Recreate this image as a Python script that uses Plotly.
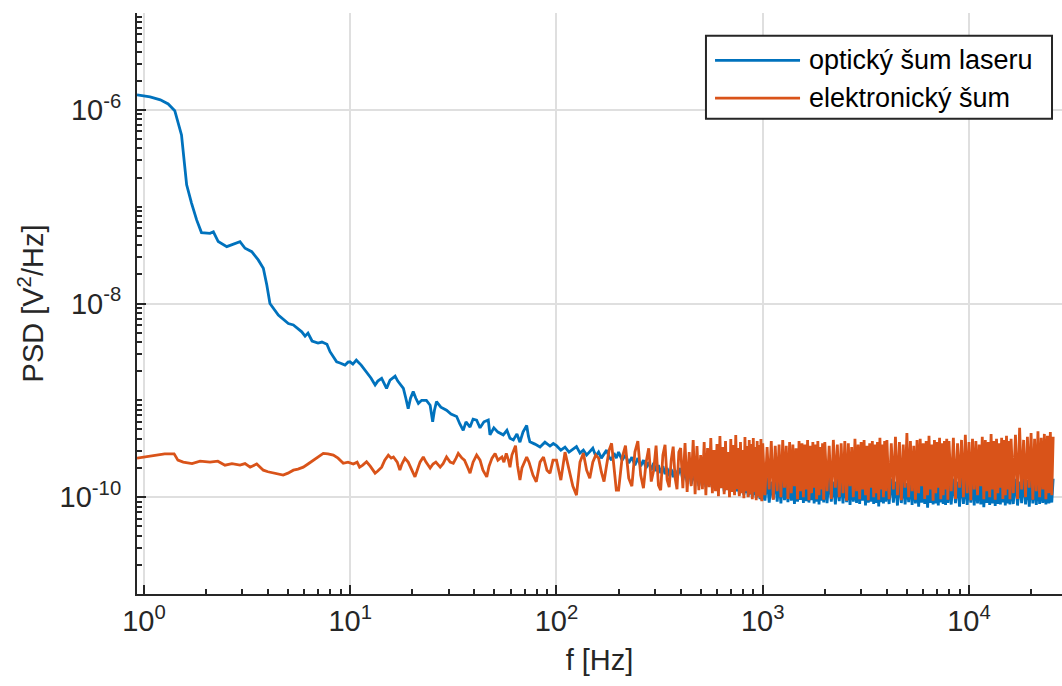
import plotly.graph_objects as go

# ---------------- data ----------------
# optical laser noise, low-frequency part (Hz, V^2/Hz)
freq_opt_lo = [0.925, 1.07, 1.2, 1.31, 1.41, 1.47, 1.52, 1.57, 1.61, 1.70, 1.80, 1.90, 2.09, 2.17, 2.29,
               2.52, 2.71, 2.92, 3.09, 3.33, 3.58, 3.79, 3.94, 4.08, 4.48, 5.01, 5.30, 5.82, 6.04, 6.24,
               6.53, 6.98, 7.29, 7.71, 7.98, 8.59, 8.92, 9.43, 9.75, 9.97, 10.3, 10.7, 11.3, 12.0, 12.6,
               13.2, 13.6, 14.2, 15.0, 15.6, 16.5, 17.0, 18.1, 18.6, 19.1, 19.6, 20.2, 20.8, 21.4, 22.2,
               23.4, 24.4, 25.1, 25.6, 26.2, 27.5, 29.3, 30.8, 32.8, 34.0, 35.3, 36.4, 38.1, 39.4, 41.0,
               42.6, 44.5, 46.7, 47.6, 49.7, 52.0, 55.2, 57.5, 59.5, 61.8, 64.3, 66.5, 68.8, 71.7, 73.1,
               74.3, 78.6, 83.2, 87.9, 93.0, 96.5]
psd_opt_lo = [1.43e-6, 1.36e-6, 1.27e-6, 1.15e-6, 9.8e-7, 7.3e-7, 5.5e-7, 2.81e-7, 1.68e-7, 1.09e-7,
              7.3e-8, 5.4e-8, 5.3e-8, 5.5e-8, 4.36e-8, 3.87e-8, 4.09e-8, 4.36e-8, 3.72e-8, 3.43e-8,
              2.82e-8, 2.31e-8, 1.55e-8, 1.0e-8, 7.6e-9, 6.2e-9, 6.0e-9, 5.1e-9, 4.6e-9, 4.95e-9,
              4.1e-9, 3.9e-9, 4.0e-9, 3.8e-9, 3.18e-9, 2.5e-9, 2.43e-9, 2.31e-9, 2.48e-9, 2.5e-9,
              2.37e-9, 2.6e-9, 2.31e-9, 1.97e-9, 1.70e-9, 1.44e-9, 1.58e-9, 1.69e-9, 1.33e-9, 1.62e-9,
              1.78e-9, 1.58e-9, 1.33e-9, 1.05e-9, 8.2e-10, 1.05e-9, 1.23e-9, 1.05e-9, 9.3e-10, 1.0e-9,
              1.0e-9, 8.9e-10, 6.0e-10, 7.9e-10, 9.7e-10, 8.5e-10, 7.9e-10, 7.2e-10, 6.8e-10, 5.7e-10,
              4.9e-10, 6.0e-10, 5.3e-10, 6.4e-10, 6.25e-10, 5.2e-10, 6.0e-10, 6.25e-10, 4.4e-10, 5.2e-10,
              4.7e-10, 4.4e-10, 4.9e-10, 4.07e-10, 3.9e-10, 4.5e-10, 3.7e-10, 4.7e-10, 5.5e-10, 4.26e-10,
              3.73e-10, 3.53e-10, 3.3e-10, 3.7e-10, 3.37e-10, 3.58e-10]

# electronic noise, low-frequency part
freq_el_lo = [0.925, 1.01, 1.13, 1.26, 1.40, 1.46, 1.55, 1.71, 1.87, 2.09, 2.28, 2.47, 2.67, 2.92, 3.09,
              3.27, 3.52, 3.79, 3.99, 4.24, 4.46, 4.73, 4.99, 5.30, 5.58, 5.92, 6.24, 6.61, 6.98, 7.40,
              7.80, 8.28, 8.73, 9.25, 9.75, 10.35, 10.8, 11.1, 11.5, 12.0, 12.5, 13.2, 13.6, 14.2, 14.7,
              15.3, 15.8, 16.2, 16.9, 17.4, 17.8, 18.4, 19.1, 19.7, 20.6, 21.3, 21.8, 22.6, 23.3, 24.4,
              25.2, 26.0, 27.3, 28.2, 29.3, 30.5, 31.6, 32.6, 33.4, 34.8, 35.8, 37.2, 38.1, 39.4, 41.0,
              42.6, 44.0, 45.9, 47.1, 48.7, 50.4, 52.0, 54.4, 55.6, 57.1, 58.5, 59.5, 60.8, 62.2, 63.3,
              64.7, 66.5, 68.0, 71.7, 73.6, 76.9, 79.8, 83.2, 86.5, 89.9, 93.0, 96.2]
psd_el_lo = [2.53e-10, 2.6e-10, 2.72e-10, 2.8e-10, 2.8e-10, 2.41e-10, 2.30e-10, 2.22e-10, 2.35e-10, 2.30e-10,
             2.35e-10, 2.14e-10, 2.22e-10, 2.14e-10, 2.22e-10, 2.04e-10, 2.2e-10, 1.9e-10, 1.83e-10, 1.78e-10,
             1.74e-10, 1.69e-10, 1.77e-10, 1.9e-10, 1.95e-10, 2.04e-10, 2.2e-10, 2.41e-10, 2.6e-10, 2.83e-10,
             2.8e-10, 2.72e-10, 2.53e-10, 2.24e-10, 2.3e-10, 2.2e-10, 2.3e-10, 2.04e-10, 2.14e-10, 2.32e-10,
             2.09e-10, 1.77e-10, 1.86e-10, 2.04e-10, 2.41e-10, 2.72e-10, 2.53e-10, 2.6e-10, 2.3e-10, 1.9e-10,
             2.2e-10, 2.52e-10, 2.3e-10, 2.0e-10, 1.62e-10, 2.0e-10, 2.3e-10, 2.6e-10, 2.3e-10, 2.0e-10,
             2.2e-10, 2.3e-10, 2.04e-10, 2.22e-10, 2.6e-10, 2.3e-10, 2.24e-10, 2.53e-10, 2.83e-10, 2.53e-10,
             2.41e-10, 2.0e-10, 1.77e-10, 2.3e-10, 2.72e-10, 2.41e-10, 1.9e-10, 1.62e-10, 2.09e-10, 2.53e-10,
             2.83e-10, 2.41e-10, 2.6e-10, 2.3e-10, 2.83e-10, 2.41e-10, 2.04e-10, 2.72e-10, 3.06e-10, 3.4e-10,
             2.14e-10, 1.5e-10, 2.0e-10, 2.6e-10, 2.3e-10, 1.69e-10, 1.44e-10, 2.3e-10, 2.6e-10, 1.9e-10,
             1.77e-10, 2.41e-10]

# shared frequency bins above 100 Hz
freq_mid = [100, 105, 110, 115, 120, 125, 130, 135, 140, 145, 150, 155, 160, 165, 170, 175, 180, 185, 190, 195,
            200, 208, 216, 224, 232, 240, 248, 256, 264, 272, 280, 288, 296, 304, 312, 320, 328, 336, 344, 352,
            360, 368, 376, 384, 392,
            400, 410, 420, 430, 440, 450, 460, 470, 480, 490, 500, 510, 520, 530, 540, 550, 560, 570, 580, 590,
            600, 610, 620, 630, 640, 650, 660, 670, 680, 690, 700, 710, 720, 730, 740, 750, 760, 770, 780, 790,
            800, 810, 820, 830, 840, 850, 860, 870, 880, 890, 900, 910, 920, 930, 940, 950, 960, 970, 980, 990]
freq_hi = [1000, 1025, 1050, 1075, 1100, 1125, 1150, 1175, 1200, 1225, 1250, 1275, 1300, 1325, 1350, 1375,
           1400, 1425, 1450, 1475, 1500, 1525, 1550, 1575, 1600, 1625, 1650, 1675, 1700, 1725, 1750, 1775,
           1800, 1825, 1850, 1875, 1900, 1925, 1950, 1975,
           2000, 2050, 2100, 2150, 2200, 2250, 2300, 2350, 2400, 2450, 2500, 2550, 2600, 2650, 2700, 2750,
           2800, 2850, 2900, 2950, 3000, 3050, 3100, 3150, 3200, 3250, 3300, 3350, 3400, 3450, 3500, 3550,
           3600, 3650, 3700, 3750, 3800, 3850, 3900, 3950,
           4000, 4100, 4200, 4300, 4400, 4500, 4600, 4700, 4800, 4900, 5000, 5100, 5200, 5300, 5400, 5500,
           5600, 5700, 5800, 5900, 6000, 6100, 6200, 6300, 6400, 6500, 6600, 6700, 6800, 6900, 7000, 7100,
           7200, 7300, 7400, 7500, 7600, 7700, 7800, 7900,
           8000, 8200, 8400, 8600, 8800, 9000, 9200, 9400, 9600, 9800, 10000, 10200, 10400, 10600, 10800,
           11000, 11200, 11400, 11600, 11800, 12000, 12200, 12400, 12600, 12800, 13000, 13200, 13400, 13600,
           13800, 14000, 14200, 14400, 14600, 14800, 15000, 15200, 15400, 15600, 15800,
           16000, 16400, 16800, 17200, 17600, 18000, 18400, 18800, 19200, 19600, 20000, 20400, 20800, 21200,
           21600, 22000, 22400, 22800, 23200, 23600, 24000, 24400, 24800, 25200, 25600]

psd_opt_mid = [3.4e-10, 3.06e-10, 3.29e-10, 2.92e-10, 3.13e-10, 3.33e-10, 2.85e-10, 3.06e-10, 2.72e-10, 2.99e-10,
               3.2e-10, 2.66e-10, 2.92e-10, 2.53e-10, 2.78e-10, 3.06e-10, 2.59e-10, 2.41e-10, 2.85e-10, 2.53e-10,
               2.92e-10, 2.41e-10, 2.72e-10, 2.25e-10, 2.59e-10, 2.14e-10, 2.53e-10, 2.09e-10, 2.41e-10, 2.0e-10,
               2.3e-10, 1.9e-10, 2.25e-10, 1.86e-10, 2.14e-10, 1.77e-10, 2.09e-10, 1.73e-10, 2.0e-10, 1.65e-10,
               1.95e-10, 1.61e-10, 1.9e-10, 1.57e-10, 1.82e-10,
               1.99e-10, 1.5e-10, 1.9e-10, 1.43e-10, 2.09e-10, 1.36e-10, 1.81e-10, 1.46e-10, 1.95e-10, 1.3e-10,
               1.73e-10, 1.4e-10, 1.9e-10, 1.27e-10, 1.65e-10, 1.33e-10, 1.81e-10, 1.24e-10, 1.61e-10, 1.3e-10,
               1.73e-10, 1.18e-10, 1.57e-10, 1.27e-10, 1.69e-10, 1.15e-10, 1.5e-10, 1.21e-10, 1.61e-10, 1.13e-10,
               1.46e-10, 1.18e-10, 1.57e-10, 1.1e-10, 1.43e-10, 1.15e-10, 1.5e-10, 1.07e-10, 1.4e-10, 1.13e-10,
               1.46e-10, 1.05e-10, 1.36e-10, 1.1e-10, 1.43e-10, 1.02e-10, 1.33e-10, 1.07e-10, 1.4e-10, 1.0e-10,
               1.3e-10, 1.05e-10, 1.36e-10, 9.76e-11, 1.27e-10, 1.02e-10, 1.33e-10, 9.53e-11, 1.24e-10, 9.31e-11]
psd_el_mid = [2.41e-10, 1.5e-10, 2.92e-10, 1.9e-10, 1.3e-10, 1.05e-10, 2.3e-10, 2.85e-10, 1.9e-10, 1.57e-10,
              2.3e-10, 2.72e-10, 2.53e-10, 1.82e-10, 1.45e-10, 2.14e-10, 3.06e-10, 3.6e-10, 1.9e-10, 1.18e-10,
              1.18e-10, 2.53e-10, 3.4e-10, 1.57e-10, 1.3e-10, 2.92e-10, 3.79e-10, 1.69e-10, 1.24e-10, 2.3e-10,
              3.2e-10, 1.45e-10, 1.9e-10, 3.4e-10, 1.33e-10, 1.18e-10, 2.72e-10, 3.47e-10, 1.5e-10, 1.27e-10,
              2.41e-10, 3.33e-10, 1.57e-10, 1.21e-10, 2.92e-10,
              3.21e-10, 1.24e-10, 3.61e-10, 1.13e-10, 2.92e-10, 1.3e-10, 3.88e-10, 1.07e-10, 3.37e-10, 1.18e-10,
              2.72e-10, 1.21e-10, 3.7e-10, 1.05e-10, 3.21e-10, 1.27e-10, 4.07e-10, 1.1e-10, 3.06e-10, 1.15e-10,
              3.53e-10, 1.02e-10, 4.27e-10, 1.24e-10, 3.29e-10, 1.07e-10, 3.79e-10, 1.18e-10, 2.92e-10, 1.0e-10,
              3.98e-10, 1.13e-10, 3.45e-10, 1.05e-10, 4.37e-10, 1.21e-10, 3.21e-10, 1.02e-10, 3.7e-10, 1.1e-10,
              3.06e-10, 9.76e-11, 4.17e-10, 1.15e-10, 3.37e-10, 1.0e-10, 3.88e-10, 1.07e-10, 3.53e-10, 9.53e-11,
              4.07e-10, 1.13e-10, 3.29e-10, 9.31e-11, 3.79e-10, 1.02e-10, 3.45e-10, 9.76e-11, 3.98e-10, 9.09e-11]

psd_opt_hi = [1.5e-10, 9.2e-11, 1.6e-10, 8.8e-11, 1.45e-10, 9.5e-11, 1.7e-10, 9.0e-11, 1.5e-10, 8.6e-11,
              1.55e-10, 9.3e-11, 1.4e-10, 8.9e-11, 1.65e-10, 9.2e-11, 1.5e-10, 8.5e-11, 1.6e-10, 9.0e-11,
              1.45e-10, 9.4e-11, 1.55e-10, 8.7e-11, 1.7e-10, 9.1e-11, 1.5e-10, 8.8e-11, 1.4e-10, 9.3e-11,
              1.6e-10, 8.6e-11, 1.5e-10, 9.0e-11, 1.55e-10, 8.4e-11, 1.45e-10, 9.2e-11, 1.6e-10, 8.8e-11,
              1.5e-10, 8.7e-11, 1.6e-10, 9.0e-11, 1.45e-10, 8.4e-11, 1.55e-10, 9.1e-11, 1.5e-10, 8.6e-11,
              1.65e-10, 8.9e-11, 1.4e-10, 8.3e-11, 1.55e-10, 9.0e-11, 1.5e-10, 8.7e-11, 1.6e-10, 8.5e-11,
              1.45e-10, 9.2e-11, 1.5e-10, 8.2e-11, 1.6e-10, 8.8e-11, 1.4e-10, 9.0e-11, 1.55e-10, 8.5e-11,
              1.5e-10, 8.7e-11, 1.65e-10, 8.0e-11, 1.45e-10, 8.9e-11, 1.5e-10, 8.6e-11, 1.6e-10, 9.0e-11,
              1.5e-10, 8.5e-11, 1.55e-10, 8.8e-11, 1.45e-10, 8.2e-11, 1.6e-10, 8.7e-11, 1.5e-10, 8.4e-11,
              1.4e-10, 8.9e-11, 1.55e-10, 8.3e-11, 1.5e-10, 8.6e-11, 1.6e-10, 8.0e-11, 1.45e-10, 8.8e-11,
              1.5e-10, 8.5e-11, 1.55e-10, 7.8e-11, 1.45e-10, 8.7e-11, 1.6e-10, 8.4e-11, 1.5e-10, 8.6e-11,
              1.4e-10, 8.2e-11, 1.55e-10, 8.8e-11, 1.5e-10, 8.5e-11, 1.6e-10, 8.3e-11, 1.45e-10, 8.7e-11,
              1.5e-10, 8.4e-11, 1.55e-10, 8.7e-11, 1.45e-10, 8.0e-11, 1.6e-10, 8.5e-11, 1.5e-10, 8.3e-11,
              1.4e-10, 8.8e-11, 1.55e-10, 8.2e-11, 1.5e-10, 8.6e-11, 1.6e-10, 8.4e-11, 1.45e-10, 7.9e-11,
              1.5e-10, 8.7e-11, 1.55e-10, 8.3e-11, 1.45e-10, 8.6e-11, 1.6e-10, 8.1e-11, 1.5e-10, 8.5e-11,
              1.4e-10, 8.4e-11, 1.55e-10, 8.8e-11, 1.5e-10, 8.2e-11, 1.6e-10, 8.6e-11, 1.45e-10, 8.4e-11,
              1.5e-10, 8.5e-11, 1.55e-10, 8.2e-11, 1.45e-10, 8.7e-11, 1.6e-10, 8.4e-11, 1.5e-10, 8.0e-11,
              1.55e-10, 8.6e-11, 1.45e-10, 8.3e-11, 1.6e-10, 8.5e-11, 1.5e-10, 8.7e-11, 1.55e-10, 8.4e-11,
              1.45e-10, 8.6e-11, 1.5e-10, 8.8e-11, 1.55e-10]
psd_el_hi = [3.6e-10, 1.05e-10, 3.3e-10, 1.2e-10, 3.8e-10, 9.4e-11, 3.4e-10, 1.15e-10, 3.5e-10, 1.0e-10,
             3.9e-10, 1.25e-10, 3.4e-10, 9.6e-11, 3.7e-10, 1.1e-10, 3.5e-10, 1.3e-10, 3.2e-10, 9.5e-11,
             3.8e-10, 1.15e-10, 3.6e-10, 1.0e-10, 3.5e-10, 1.2e-10, 3.9e-10, 9.3e-11, 3.4e-10, 1.1e-10,
             3.7e-10, 1.25e-10, 3.5e-10, 9.5e-11, 3.8e-10, 1.05e-10, 3.3e-10, 1.2e-10, 3.6e-10, 9.4e-11,
             3.7e-10, 1.15e-10, 3.4e-10, 9.6e-11, 3.9e-10, 1.25e-10, 3.5e-10, 1.0e-10, 3.6e-10, 1.1e-10,
             3.8e-10, 9.2e-11, 3.6e-10, 1.3e-10, 3.3e-10, 1.0e-10, 4.0e-10, 1.15e-10, 3.5e-10, 9.5e-11,
             3.7e-10, 1.2e-10, 3.9e-10, 1.05e-10, 3.4e-10, 9.3e-11, 3.6e-10, 1.25e-10, 3.8e-10, 1.0e-10,
             3.5e-10, 1.1e-10, 3.7e-10, 9.4e-11, 4.1e-10, 1.2e-10, 3.5e-10, 1.0e-10, 3.8e-10, 1.15e-10,
             3.9e-10, 9.5e-11, 3.6e-10, 1.2e-10, 4.2e-10, 1.05e-10, 3.7e-10, 9.3e-11, 3.5e-10, 1.25e-10,
             4.6e-10, 1.0e-10, 3.8e-10, 1.15e-10, 3.4e-10, 9.4e-11, 3.9e-10, 1.1e-10, 4.0e-10, 1.3e-10,
             3.6e-10, 9.6e-11, 3.8e-10, 1.05e-10, 4.3e-10, 1.2e-10, 3.5e-10, 9.2e-11, 3.9e-10, 1.1e-10,
             3.7e-10, 1.25e-10, 4.1e-10, 9.5e-11, 3.6e-10, 1.05e-10, 3.8e-10, 1.2e-10, 4.0e-10, 9.4e-11,
             3.8e-10, 1.15e-10, 4.1e-10, 9.6e-11, 3.6e-10, 1.25e-10, 3.9e-10, 1.0e-10, 4.4e-10, 1.1e-10,
             3.7e-10, 9.3e-11, 4.0e-10, 1.2e-10, 3.8e-10, 1.05e-10, 3.5e-10, 1.3e-10, 4.2e-10, 9.5e-11,
             3.9e-10, 1.15e-10, 3.7e-10, 1.0e-10, 4.5e-10, 1.2e-10, 3.8e-10, 9.4e-11, 4.0e-10, 1.1e-10,
             3.6e-10, 1.25e-10, 4.1e-10, 9.6e-11, 3.9e-10, 1.05e-10, 4.3e-10, 1.2e-10, 3.8e-10, 9.5e-11,
             4.0e-10, 1.1e-10, 4.4e-10, 9.6e-11, 5.2e-10, 1.2e-10, 3.9e-10, 1.0e-10, 4.2e-10, 1.25e-10,
             4.6e-10, 9.4e-11, 4.0e-10, 1.15e-10, 4.8e-10, 1.0e-10, 4.1e-10, 1.2e-10, 4.5e-10, 9.5e-11,
             4.3e-10, 1.1e-10, 4.7e-10, 1.05e-10, 4.2e-10]

series_names = ["optický šum laseru", "elektronický šum"]
series_colors = ["#0072BD", "#D95319"]

x_tick_vals = [1, 10, 100, 1000, 10000]
x_tick_text = ["10<sup>0</sup>", "10<sup>1</sup>", "10<sup>2</sup>", "10<sup>3</sup>", "10<sup>4</sup>"]
y_tick_vals = [1e-10, 1e-8, 1e-6]
y_tick_text = ["10<sup>-10</sup>", "10<sup>-8</sup>", "10<sup>-6</sup>"]

# ---------------- figure ----------------
x_opt = freq_opt_lo + freq_mid + freq_hi
y_opt = psd_opt_lo + psd_opt_mid + psd_opt_hi
x_el = freq_el_lo + freq_mid + freq_hi
y_el = psd_el_lo + psd_el_mid + psd_el_hi

FONT = "Liberation Sans, Arial, Helvetica, sans-serif"
INK = "#262626"
GRID = "#dfdfdf"

fig = go.Figure()
fig.add_trace(go.Scatter(x=x_opt, y=y_opt, mode="lines", name=series_names[0],
                         line=dict(color=series_colors[0], width=2.8), showlegend=False))
fig.add_trace(go.Scatter(x=x_el, y=y_el, mode="lines", name=series_names[1],
                         line=dict(color=series_colors[1], width=2.8), showlegend=False))

x_minor = [m * 10 ** e for e in range(0, 5) for m in range(2, 10)]
y_minor = [m * 10.0 ** e for e in range(-11, -5) for m in range(1, 10)
           if not (m == 1 and e in (-10, -8, -6))]

axis_common = dict(
    type="log", showline=True, linecolor=INK, linewidth=2, mirror=False,
    ticks="inside", ticklen=9, tickwidth=1.5, tickcolor=INK,
    showgrid=True, gridcolor=GRID, gridwidth=2, zeroline=False,
    tickfont=dict(family=FONT, size=29, color=INK),
    tickmode="array",
)

fig.update_xaxes(**axis_common, range=[-0.0339, 4.451],
                 tickvals=x_tick_vals, ticktext=x_tick_text,
                 minor=dict(tickmode="array", tickvals=x_minor, ticks="inside", ticklen=5,
                            tickwidth=1.5, tickcolor=INK, showgrid=False),
                 title=dict(text="f [Hz]", font=dict(family=FONT, size=29, color=INK), standoff=14))
fig.update_yaxes(**axis_common, range=[-11, -5],
                 tickvals=y_tick_vals, ticktext=y_tick_text,
                 minor=dict(tickmode="array", tickvals=y_minor, ticks="inside", ticklen=5,
                            tickwidth=1.5, tickcolor=INK, showgrid=False),
                 ticklabelstandoff=8,
                 title=dict(text="PSD [V<sup>2</sup>/Hz]", font=dict(family=FONT, size=29, color=INK),
                            standoff=7))

# legend box (drawn in paper coordinates, like MATLAB's boxed legend)
leg_x0, leg_x1, leg_y0, leg_y1 = 0.6151, 0.9892, 0.8178, 0.9608
leg_rows = [0.9183, 0.8535]
line_x0, line_x1, text_x = 0.6249, 0.7168, 0.7243
shapes = [dict(type="rect", xref="paper", yref="paper", x0=leg_x0, x1=leg_x1, y0=leg_y0, y1=leg_y1,
               line=dict(color=INK, width=2), fillcolor="white", layer="above")]
annotations = []
for name, color, yy in zip(series_names, series_colors, leg_rows):
    shapes.append(dict(type="line", xref="paper", yref="paper", x0=line_x0, x1=line_x1, y0=yy, y1=yy,
                       line=dict(color=color, width=2.8), layer="above"))
    annotations.append(dict(xref="paper", yref="paper", x=text_x, y=yy, xanchor="left", yanchor="middle",
                            text=name, showarrow=False, font=dict(family=FONT, size=27, color="black")))

fig.update_layout(
    width=1062, height=686,
    margin=dict(l=137, r=0, t=13, b=92),
    paper_bgcolor="white", plot_bgcolor="white",
    showlegend=False,
    shapes=shapes, annotations=annotations,
    font=dict(family=FONT, color=INK),
)

fig.write_html("out.html")
